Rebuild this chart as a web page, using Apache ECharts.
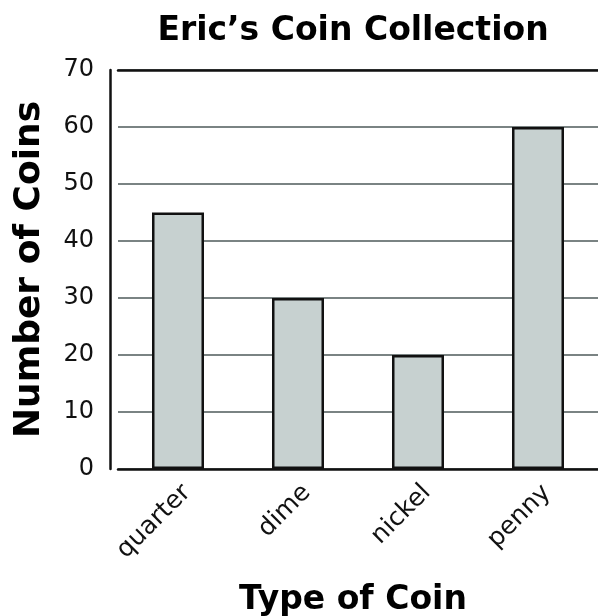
<!DOCTYPE html>
<html><head><meta charset="utf-8">
<script src="https://cdn.jsdelivr.net/npm/echarts@6/dist/echarts.min.js"></script>
<style>html,body{margin:0;padding:0;background:#fff}#c{width:598px;height:616px}</style>
</head><body><div id="c"></div>
<script>
const categories = ['quarter', 'dime', 'nickel', 'penny'];
const coinCounts = [45, 30, 20, 60];
const yTicks = [0, 10, 20, 30, 40, 50, 60, 70];

const chart = echarts.init(document.getElementById('c'), null, {renderer: 'canvas'});
chart.setOption({
  animation: false,
  backgroundColor: '#fff',
  title: {
    text: 'Eric\u2019s Coin Collection',
    left: 348, top: 10, textAlign: 'center',
    textStyle: {fontFamily: 'DejaVu Sans', fontWeight: 'bold', fontSize: 33, color: '#000'}
  },
  grid: {left: 118, right: 0, top: 70, bottom: 147, containLabel: false, outerBoundsMode: 'none'},
  xAxis: [{
    type: 'category',
    data: categories,
    name: 'Type of Coin',
    nameLocation: 'middle',
    nameGap: 115,
    nameTextStyle: {fontFamily: 'DejaVu Sans', fontWeight: 'bold', fontSize: 33, color: '#000', padding: [0, 10, 0, 0]},
    axisLine: {lineStyle: {color: '#111', width: 2.5}},
    axisTick: {show: false},
    axisLabel: {rotate: 45, margin: 11, verticalAlign: 'top', fontFamily: 'DejaVu Sans', fontSize: 25, color: '#111'}
  }, {
    type: 'category',
    data: categories,
    position: 'top',
    axisLine: {lineStyle: {color: '#111', width: 2.5}},
    axisTick: {show: false},
    axisLabel: {show: false}
  }],
  yAxis: {
    type: 'value',
    min: 0, max: 70, interval: 10,
    offset: 8,
    name: 'Number of Coins',
    nameLocation: 'middle',
    nameGap: 62,
    nameRotate: 90,
    nameTextStyle: {fontFamily: 'DejaVu Sans', fontWeight: 'bold', fontSize: 36, color: '#000'},
    axisLine: {show: true, lineStyle: {color: '#111', width: 2.5}},
    axisTick: {show: false},
    axisLabel: {margin: 16, fontFamily: 'DejaVu Sans', fontSize: 24, color: '#111',
      formatter: v => yTicks.includes(v) ? String(v) : ''},
    splitLine: {lineStyle: {color: '#4e5a5a', width: 1.5}}
  },
  series: [{
    type: 'bar',
    xAxisIndex: 0,
    data: coinCounts,
    barWidth: 52,
    itemStyle: {color: '#c7d1d0', borderColor: '#111', borderWidth: 2.5}
  }]
});
</script></body></html>
